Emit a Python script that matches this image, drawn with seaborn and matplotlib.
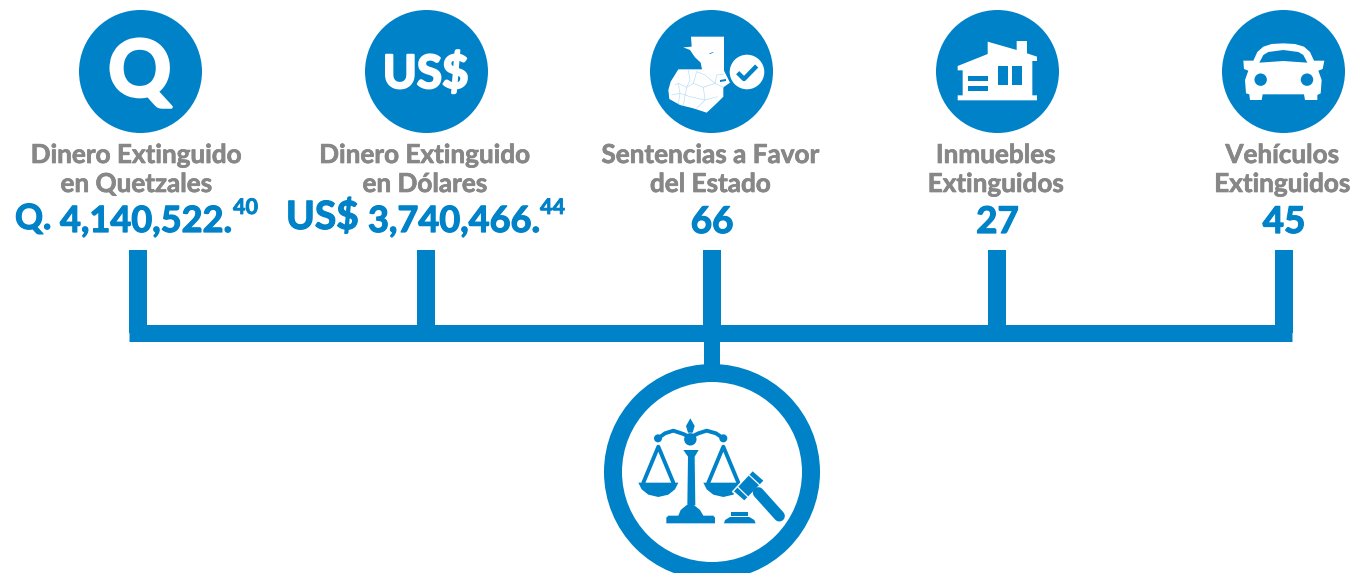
import matplotlib
matplotlib.use("Agg")
import matplotlib.pyplot as plt
import matplotlib.patheffects as pe
import seaborn as sns
import numpy as np
from matplotlib.patches import Circle, Polygon, Rectangle

# chart content
labels_top = ["Dinero Extinguido", "Dinero Extinguido", "Sentencias a Favor", "Inmuebles", "Vehículos"]
labels_bottom = ["en Quetzales", "en Dólares", "del Estado", "Extinguidos", "Extinguidos"]
counts = ["66", "27", "45"]
quetzales = ["Q.", "4,140,522.", "40"]
dolares = ["US$", "3,740,466.", "44"]

BLUE = "#0082C9"
GRAY = "#878787"
WHITE = "#FFFFFF"
FONT = ["Lato", "DejaVu Sans"]

stems = [137.5, 426, 711.5, 997, 1283.5]
circles = [139.7, 425.7, 710.8, 996.8, 1283.2]
circle_y = 71

sns.set_theme(style="white")
plt.rcParams["font.family"] = FONT

fig = plt.figure(figsize=(13.69, 5.73), dpi=100)
ax = fig.add_axes([0, 0, 1, 1])
ax.set_xlim(0, 1369)
ax.set_ylim(573, 0)
ax.axis("off")


def line(xs, ys, lw_px, color=BLUE, cap="butt", z=2):
    # lw given in pixels, matplotlib wants points
    sns.lineplot(x=xs, y=ys, ax=ax, color=color, linewidth=lw_px * 0.72, sort=False,
                 estimator=None, solid_capstyle=cap, zorder=z, legend=False)


def label(x, y, s, color, size, ha="center", va="baseline", stroke=0.5):
    # Lato has no weight as heavy as the original, so thicken it a bit
    t = ax.text(x, y, s, color=color, fontsize=size, fontweight="bold", ha=ha, va=va, zorder=4)
    t.set_path_effects([pe.withStroke(linewidth=stroke, foreground=color)])
    return t


# connector
for cx in stems:
    line([cx, cx], [250, 333], 18)
line([129, 1292], [333, 333], 17)
line([712, 712], [341, 372], 16)

# top circles
sns.scatterplot(x=circles, y=[circle_y] * 5, ax=ax, color=BLUE, s=(123 * 0.72) ** 2,
                linewidth=0, zorder=3, legend=False)

# big ring at the bottom
ax.add_patch(Circle((712, 472), 99, fc=WHITE, ec=BLUE, lw=18 * 0.72, zorder=3))

# Q and US$ glyphs
label(circles[0], 74, "Q", WHITE, 56, va="center", stroke=2.5)
label(circles[1], 74, "US$", WHITE, 33, va="center", stroke=1.6)


# icons were measured on 3x crops, so helpers map crop coords back to the canvas
def map_pt(p):
    return (640 + p[0] / 3, p[1] / 3)


def car_pt(p):
    return (1200 + p[0] / 3, p[1] / 3)


def law_pt(p):
    return (590 + p[0] / 3, 350 + p[1] / 3)


def poly(pts, fn, color=WHITE, z=4):
    ax.add_patch(Polygon([fn(p) for p in pts], closed=True, fc=color, ec="none", zorder=z))


# map icon
guate = [(153, 110), (252, 110), (252, 212), (262, 232), (270, 248), (250, 262), (250, 290), (232, 308),
         (200, 338), (160, 325), (120, 315), (88, 297), (85, 270), (92, 245), (115, 208), (186, 208),
         (182, 188), (165, 172), (150, 150), (130, 142), (155, 140)]
poly(guate, map_pt)
borders = [[(115, 250), (140, 262), (160, 250), (170, 215)],
           [(145, 210), (150, 240), (140, 262), (130, 315)],
           [(160, 250), (190, 262), (195, 300), (170, 325)],
           [(190, 262), (225, 250), (250, 262)],
           [(95, 285), (120, 280), (150, 290), (195, 300), (232, 290)],
           [(225, 250), (230, 225), (252, 222)],
           [(105, 255), (115, 250), (120, 280), (115, 312)],
           [(170, 215), (195, 225), (225, 250)]]
for b in borders:
    pts = np.array([map_pt(p) for p in b])
    ax.plot(pts[:, 0], pts[:, 1], color="#B5DCF2", lw=0.45, zorder=5)
poly([(208, 160), (220, 156), (220, 158), (210, 162)], map_pt, BLUE, 5)
poly([(240, 240), (258, 237), (258, 243), (240, 246)], map_pt, BLUE, 5)
ax.add_patch(Circle(map_pt((321, 216)), 18, fc=WHITE, ec=BLUE, lw=1, zorder=6))
chk = np.array([map_pt(p) for p in [(293, 218), (312, 237), (350, 198)]])
ax.plot(chk[:, 0], chk[:, 1], color=BLUE, lw=3.2, zorder=7, solid_capstyle="butt")

# house icon
poly([(953, 198), (1043, 162), (1043, 125), (1130, 150), (1130, 123), (1161, 123), (1161, 160), (1191, 170),
      (1191, 183), (1177, 183), (1177, 286), (1191, 286), (1191, 301), (953, 301), (953, 286), (968, 286),
      (968, 211), (953, 211)], map_pt)
for x0, x1, y0, y1 in [(1073, 1103, 197, 256), (1117, 1147, 197, 256), (984, 1043, 228, 243), (984, 1043, 257, 272)]:
    poly([(x0, y0), (x1, y0), (x1, y1), (x0, y1)], map_pt, BLUE, 5)

# car icon
poly([(130, 182), (160, 182), (172, 156), (190, 140), (215, 132), (250, 130), (285, 132), (312, 140), (330, 156),
      (342, 182), (373, 182), (368, 207), (355, 212), (365, 240), (362, 280), (352, 285), (352, 300), (315, 300),
      (312, 283), (188, 283), (185, 300), (150, 300), (148, 283), (138, 280), (135, 240), (145, 212), (132, 207)],
     car_pt)
poly([(178, 188), (190, 165), (205, 156), (250, 150), (295, 156), (310, 165), (322, 188), (250, 183)], car_pt, BLUE, 5)
for p in [(182, 239), (321, 239)]:
    ax.add_patch(Circle(car_pt(p), 6.2, fc=BLUE, ec="none", zorder=5))

# scales icon
poly([(229, 503), (235, 497), (265, 497), (272, 480), (290, 465), (312, 465), (330, 480), (340, 497),
      (370, 497), (375, 503), (375, 520), (229, 520)], law_pt, BLUE)
poly([(292, 465), (294, 320), (280, 300), (326, 300), (314, 320), (316, 465)], law_pt, BLUE)
poly([(301, 205), (314, 228), (308, 248), (294, 248), (288, 228)], law_pt, BLUE)
ax.add_patch(Circle(law_pt((301, 268)), 6.2, fc=BLUE, ec="none", zorder=4))
for p in [(204, 265), (400, 265)]:
    ax.add_patch(Circle(law_pt(p), 4, fc=BLUE, ec="none", zorder=4))
beam = np.array([law_pt(p) for p in [(204, 265), (225, 250), (250, 242), (280, 252), (301, 262), (325, 250),
                                     (350, 242), (378, 250), (400, 265)]])
ax.plot(beam[:, 0], beam[:, 1], color=BLUE, lw=2.8, zorder=4)
for cx in [205, 400]:
    tri = np.array([law_pt(p) for p in [(cx - 45, 398), (cx, 290), (cx + 45, 398)]])
    ax.plot(tri[:, 0], tri[:, 1], color=BLUE, lw=2.8, zorder=4)
    pan = [(cx - 60, 398), (cx + 60, 398), (cx + 50, 418), (cx + 30, 434), (cx, 441), (cx - 30, 434), (cx - 50, 418)]
    poly(pan, law_pt, BLUE)
# white gap around the gavel, then the gavel
poly([(425, 425), (490, 355), (530, 392), (465, 462)], law_pt, WHITE, 5)
poly([(432, 424), (488, 364), (520, 392), (463, 451)], law_pt, BLUE, 6)
for a, b in [((442, 410), (473, 440)), ((478, 376), (508, 404))]:
    pts = np.array([law_pt(a), law_pt(b)])
    ax.plot(pts[:, 0], pts[:, 1], color=WHITE, lw=0.9, zorder=7)
hnd = np.array([law_pt((505, 428)), law_pt((568, 498))])
ax.plot(hnd[:, 0], hnd[:, 1], color=BLUE, lw=8.5 * 0.72 * 1.3, zorder=6, solid_capstyle="round")
poly([(424, 487), (473, 487), (473, 497), (424, 497)], law_pt, BLUE)
poly([(402, 520), (405, 510), (420, 501), (478, 501), (493, 510), (497, 520)], law_pt, BLUE)

# text
for cx, top, bottom in zip(stems, labels_top, labels_bottom):
    label(cx - 1, 163, top, GRAY, 18.8)
    label(cx - 1, 192, bottom, GRAY, 18.8)

for cx, n in zip(stems[2:], counts):
    label(cx + 0.5, 233, n, BLUE, 26.5, stroke=0.9)

label(15, 229, quetzales[0], BLUE, 25, ha="left", stroke=0.9)
label(60, 232, quetzales[1], BLUE, 26, ha="left", stroke=0.9)
label(233, 214, quetzales[2], BLUE, 15.5, ha="left", stroke=0.6)

label(286, 229, dolares[0], BLUE, 28, ha="left", stroke=0.9)
label(368, 232, dolares[1], BLUE, 26, ha="left", stroke=0.9)
label(540, 214, dolares[2], BLUE, 15.5, ha="left", stroke=0.6)

# the source image stops at x=1350, rest of canvas is blank
ax.add_patch(Rectangle((1350, 0), 19, 573, fc=WHITE, ec="none", zorder=10))

fig.savefig("out.png", dpi=100)
plt.close(fig)
